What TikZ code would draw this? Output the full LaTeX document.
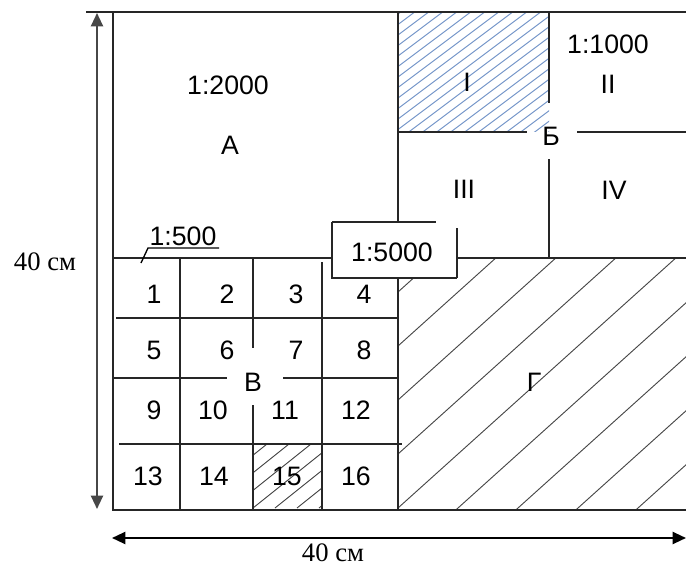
\documentclass[tikz,border=0pt]{standalone}
\usepackage{fontspec}
\setmainfont{Liberation Serif}
\newfontfamily\labelfont{Liberation Sans}
\usetikzlibrary{arrows.meta}
\definecolor{hatchblue}{RGB}{120,152,202}
\begin{document}
\begin{tikzpicture}[x=0.75pt,y=-0.75pt,
  frame/.style={line width=1.3pt, black!85},
  hatchline/.style={line width=0.7pt, black!72},
  bluehatch/.style={line width=0.75pt, hatchblue},
  lbl/.style={font=\labelfont\fontsize{20}{24}\selectfont, inner sep=0pt},
  dimtext/.style={font=\fontsize{20}{24}\selectfont, inner sep=0pt},
  dimarrow/.style={line width=1.6pt, {Triangle[length=10pt,width=9pt]}-{Triangle[length=10pt,width=9pt]}}]
\useasboundingbox (0,0) rectangle (686,567);

% ---- hatching: sheet I (blue), sheet 15 and sheet G ----
\begin{scope}
  \clip (398,12) rectangle (549,132);
  \foreach \k in {-13,...,11}
    \draw[bluehatch] (398+14*\k,140) -- ++(240,-180);
\end{scope}
\begin{scope}
  \clip (253,444) rectangle (322,510);
  \foreach \k in {-4,...,3}
    \draw[hatchline] (253+22*\k,508) -- ++(150,-120);
\end{scope}
\begin{scope}
  \clip (398,258) rectangle (686,510);
  \foreach \k in {-5,...,5}
    \draw[hatchline] (398+60*\k-20,526) -- ++(420,-378);
\end{scope}

% ---- outer frame ----
\draw[frame] (86,12) -- (686,12);
\draw[frame] (113,12) -- (113,510) -- (686,510);

% ---- split between A, B, V, G ----
\draw[frame] (398,12) -- (398,222);
\draw[frame] (398,278) -- (398,510);
\draw[frame] (113,258) -- (332,258);
\draw[frame] (457,258) -- (686,258);

% ---- frame round the 1:5000 label ----
\fill[white] (332,222) rectangle (457,278);
\draw[frame] (332,222) -- (436,222);
\draw[frame] (332,222) -- (332,278) -- (457,278);
\draw[frame] (457,228) -- (457,278);
\node[lbl] (s5000) at (392,252) {1:5000};

% ---- sheet B, split into I..IV ----
\draw[frame] (398,132) -- (527,132);
\draw[frame] (577,132) -- (686,132);
\draw[frame] (549,12) -- (549,103);
\draw[frame] (549,159) -- (549,258);

% ---- sheet V, split into 1..16 ----
\draw[frame] (180,259) -- (180,510);
\draw[frame] (253,259) -- (253,348);
\draw[frame] (253,405) -- (253,510);
\draw[frame] (322,262) -- (322,510);
\draw[frame] (116,318) -- (398,318);
\draw[frame] (113,378) -- (227,378);
\draw[frame] (283,378) -- (398,378);
\draw[frame] (119,444) -- (402,444);

% ---- 1:500 callout ----
\draw[line width=1pt] (141,263) -- (148,248) -- (219,248);
\node[lbl] (s500) at (183,236) {1:500};

% ---- labels ----
\node[lbl] (s2000) at (228,85) {1:2000};
\node[lbl] (la) at (230,145) {А};
\node[lbl] (s1000) at (608,44) {1:1000};
\node[lbl] (r1) at (467,82) {I};
\node[lbl] (r2) at (608,84) {II};
\node[lbl] (lb) at (551,136) {Б};
\node[lbl] (r3) at (464,189) {III};
\node[lbl] (r4) at (614,190) {IV};
\node[lbl] (lg) at (534,382) {Г};
\node[lbl] (lv) at (253,382) {В};

\foreach \n/\x/\y in {1/154/294, 2/227/294, 3/296/294, 4/364/294,
                      5/154/350, 6/227/350, 7/296/350, 8/364/350,
                      9/154/410, 10/213/410, 11/285/410, 12/356/410,
                      13/148/476, 14/214/476, 15/287/476, 16/356/476}
  \node[lbl] (n\n) at (\x,\y) {\n};

% ---- dimensions ----
\coordinate (vtop) at (97,13);
\coordinate (vbot) at (97,509);
\coordinate (hleft) at (112,538);
\coordinate (hright) at (686,538);
\draw[dimarrow, black!72] (vbot) -- (vtop);
\draw[dimarrow] (hleft) -- (hright);
\node[dimtext] (dimv) at (45,262) {40 см};
\node[dimtext] (dimh) at (333,553) {40 см};
\end{tikzpicture}
\end{document}
